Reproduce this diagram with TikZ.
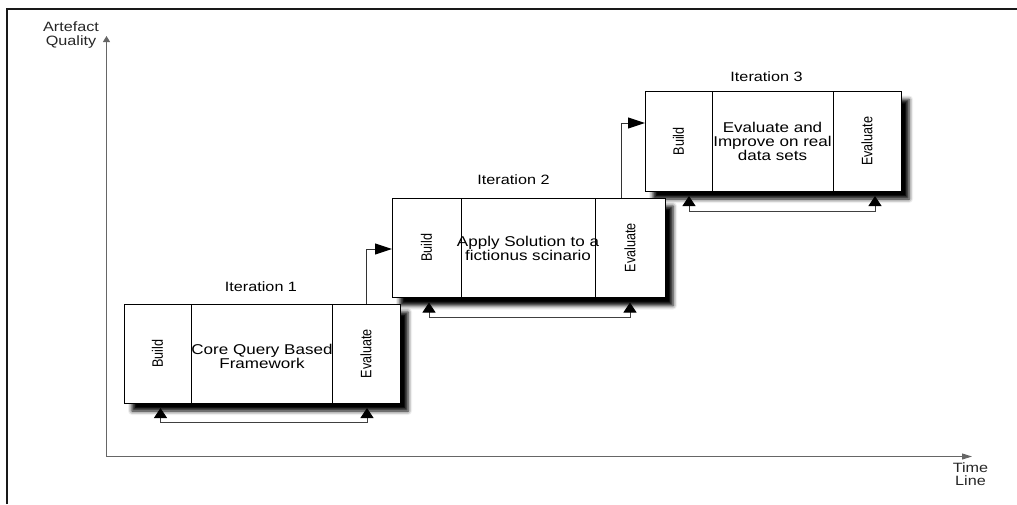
\documentclass[tikz,border=0pt]{standalone}
\usepackage{fontspec}
\setmainfont{Liberation Sans}
\usetikzlibrary{arrows.meta,shadows.blur}

% horizontally widened text, single line and multi-line
\newcommand{\wline}[1]{\scalebox{1.2}[1]{#1}}
\newcommand{\wtext}[1]{\scalebox{1.2}[1]{\begin{tabular}{@{}c@{}}#1\end{tabular}}}
% vertical column caption
\newcommand{\vtext}[1]{\rotatebox{90}{\scalebox{1}[1.2]{#1}}}

\begin{document}
\begin{tikzpicture}[x=1pt,y=-1pt,
  frame/.style={draw=black!90, line width=2pt},
  axis/.style={draw=black!60, line width=1pt},
  iterbox/.style={draw=black, line width=1pt, fill=white, inner sep=0pt, outer sep=0pt,
    blur shadow={shadow xshift=8pt, shadow yshift=-8pt, shadow blur radius=4pt, shadow opacity=100}},
  colbox/.style={draw=black, line width=1pt, inner sep=0pt, outer sep=0pt,
    minimum height=99.5pt, font=\fontsize{12.6}{13}\selectfont},
  task/.style={inner sep=0pt, font=\fontsize{14.2}{13}\selectfont},
  title/.style={inner sep=0pt, anchor=base, font=\fontsize{13.5}{13}\selectfont},
  axislabel/.style={inner sep=0pt, text=black!85, font=\fontsize{13.5}{13}\selectfont},
  feedback/.style={draw=black!75, line width=1pt, shorten <=5pt, shorten >=5pt,
    {Triangle[length=10pt,width=13pt,color=black]}-{Triangle[length=10pt,width=13pt,color=black]}},
  link/.style={draw=black!80, line width=1pt, -{Triangle[length=17pt,width=11pt,color=black]}}
]
\useasboundingbox (0,0) rectangle (1017,504);

% page frame (top and left edges)
\draw[frame] (7,504) -- (7,9) -- (1017,9);

% axes
\coordinate (origin) at (106.5,456.5);
\coordinate (ytop) at (106.5,36);
\coordinate (xend) at (972,456.5);
\draw[axis, -{Triangle[length=6pt,width=7pt]}] (origin) -- (ytop);
\draw[axis, -{Triangle[length=10pt,width=6pt]}] (origin) -- (xend);
\node[axislabel] (ylab) at (71,35.5) {\wtext{Artefact\\Quality}};
\node[axislabel] (xlab) at (970.5,476) {\wtext{Time\\Line}};

% iteration 3
\node[iterbox, minimum width=256pt, minimum height=99.5pt] (it3) at (773,141.25) {};
\node[colbox, minimum width=67pt] (b3) at (678.5,141.25) {\vtext{Build}};
\node[colbox, minimum width=68pt] (e3) at (867,141.25) {\vtext{Evaluate}};
\node[task] (t3) at (772.5,143.4) {\wtext{Evaluate and\\Improve on real\\data sets}};
\node[title] (l3) at (766.5,81.7) {\wline{Iteration 3}};

% iteration 2
\node[iterbox, minimum width=273pt, minimum height=99.5pt] (it2) at (528.5,247.75) {};
\node[colbox, minimum width=69pt] (b2) at (426.5,247.75) {\vtext{Build}};
\node[colbox, minimum width=70pt] (e2) at (630,247.75) {\vtext{Evaluate}};
\node[task] (t2) at (528,250.5) {\wtext{Apply Solution to a\\fictionus scinario}};
\node[title] (l2) at (513.5,184) {\wline{Iteration 2}};

% iteration 1
\node[iterbox, minimum width=276pt, minimum height=99pt] (it1) at (262,353.5) {};
\node[colbox, minimum width=67pt, minimum height=99pt] (b1) at (157.5,353.5) {\vtext{Build}};
\node[colbox, minimum width=68pt, minimum height=99pt] (e1) at (366,353.5) {\vtext{Evaluate}};
\node[task] (t1) at (262,358) {\wtext{Core Query Based\\Framework}};
\node[title] (l1) at (261,291) {\wline{Iteration 1}};

% build/evaluate feedback loops
\draw[feedback] ([xshift=3pt]b1.south) -- ++(0,19) -| ([xshift=1pt]e1.south);
\draw[feedback] ([xshift=2.5pt]b2.south) -- ++(0,19.5) -| (e2.south);
\draw[feedback] ([xshift=10.5pt]b3.south) -- ++(0,20.7) -| ([xshift=8pt]e3.south);

% hand-over between iterations
\draw[link] (e1.north) |- ([yshift=-1.25pt]b2.west);
\draw[link] ([xshift=-9pt]e2.north) |- ([yshift=18.25pt]b3.west);
\end{tikzpicture}
\end{document}
